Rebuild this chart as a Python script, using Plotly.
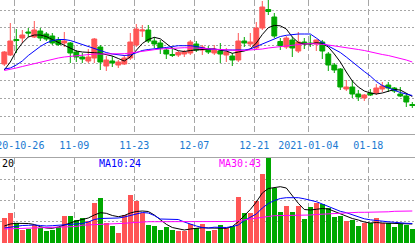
import pandas as pd
import plotly.graph_objects as go

# ---------------- data ----------------
dates = [d.strftime("%Y-%m-%d") for d in pd.bdate_range("2020-10-22", "2021-01-27")
         if d.strftime("%Y-%m-%d") != "2021-01-01"]

opens = [70, 79, 94.5, 96, 102, 97, 103, 100, 98, 94,
         91, 91, 82, 77, 73, 76, 87, 68, 73, 69,
         70, 76, 89, 103, 104, 93, 91, 84, 79.5, 79,
         80, 81, 90, 84, 85, 81, 83, 79, 78, 74,
         93, 90, 86, 106, 124.5, 117, 92.5, 87, 94, 83,
         92, 91, 90, 92, 80, 69, 65, 45, 47, 40,
         36, 41, 41, 45, 49, 46, 40, 38, 29.5]
closes = [82, 93, 93.5, 99, 101, 104, 96, 95, 91, 89.5,
          93, 81, 77, 75, 77, 95, 72, 74, 71, 72,
          76, 92, 105, 104, 93, 90, 86, 80, 78.7, 81.5,
          82, 92, 84, 87, 82, 84, 80, 82, 74, 93,
          91, 92, 106, 127, 122.5, 98, 88.5, 96, 86, 92,
          90, 90.3, 94, 83, 69, 64, 47, 47, 40, 37,
          39, 39, 46, 48, 46, 43, 38, 32, 28.5]
highs = [83, 111, 105, 104, 106, 113, 106, 102, 101, 97,
         102, 92, 84, 81, 85, 96, 89, 78, 78, 74,
         79, 101, 110, 109, 109, 97, 94, 86, 87, 83,
         84, 94, 93, 89, 88, 89, 91, 86, 81, 101,
         97, 101, 112, 133, 134, 121, 96, 98, 97, 102,
         96, 99, 94.5, 94, 82, 71, 66, 54, 54, 44,
         40, 45, 50, 52, 52, 47, 47, 41, 32]
lows = [68, 78, 81, 91, 97, 96, 93, 93, 89, 88,
        87, 71, 72, 71, 71, 71, 64, 63, 67, 66,
        69, 74, 87, 97, 91, 86, 80, 75, 77, 77,
        77, 79, 82, 79, 80, 79, 71, 72, 68, 72,
        87, 87, 85, 104, 119, 96, 84, 85, 77, 81,
        85, 87, 83, 75, 63, 61, 44, 43, 36, 33,
        33, 38, 39, 42, 42, 41, 37, 27, 26]

ma5 = [64, 72, 83, 91, 97, 99, 99, 97.5, 94.5, 91.5,
       88.5, 85.5, 83, 82, 81.3, 81.3, 80.7, 79, 78, 75.5,
       73, 77, 83.3, 90.5, 94.5, 96.7, 95.2, 90.8, 85.7, 83.3,
       82.5, 83.5, 84, 85, 85, 85.2, 83.7, 83, 80.7, 82,
       83, 85, 91, 99.5, 106.3, 108.6, 108.2, 105, 97, 91.5,
       90, 90, 91.3, 90.5, 87, 80, 72, 62, 53, 47,
       43, 41, 40, 41, 43, 44.5, 44, 40.5, 37.5]
ma10 = [65, 66, 69, 73, 78.5, 83, 87.5, 91, 93.5, 94.5,
        94.5, 93.5, 91.5, 89, 87, 85.5, 83.3, 81.5, 80, 79,
        78.5, 79, 81.5, 83.5, 84.5, 85, 85.5, 86.5, 87.5, 88.3,
        88.3, 88.3, 87.5, 86, 85, 84.7, 84, 84, 84, 84,
        84, 85, 87.5, 90, 92.5, 95.5, 97.5, 98.7, 99.5, 100,
        100, 100, 96, 91.5, 88, 85, 81.5, 77, 72, 67.5,
        62.5, 58, 52.5, 48.5, 46, 44, 41.5, 40, 38.5]
ma30 = [63.5, 64.5, 66, 67.5, 69, 70.5, 72, 73.5, 75, 76,
        77, 77.7, 78.3, 79, 79.5, 80, 80, 80, 80, 80,
        80.3, 81, 82, 82.5, 83.5, 84.3, 85, 85.5, 86, 86.3,
        86.3, 86.2, 85.8, 85.4, 85, 84.6, 84.2, 84, 83.7, 83.5,
        83.6, 83.9, 84.3, 85, 86, 86.8, 87.6, 88.3, 89, 89.6,
        90.1, 90.4, 90.4, 89.7, 89, 88.2, 87.5, 86.5, 85.5, 84.5,
        83.5, 82, 80.5, 79.5, 78.5, 77.2, 76, 74, 72]

volumes = [24.7, 30.3, 19.7, 13, 14, 18, 14.7, 12, 13, 16.3,
           27.3, 27.3, 23, 24.7, 22, 40.3, 45.3, 19.7, 17.3, 10.3,
           28, 48, 42.5, 30.3, 18, 17, 13, 15.7, 13, 12,
           12.3, 18.7, 14.7, 19, 12, 13.5, 18, 14.7, 17, 46.3,
           29.7, 29.7, 42, 69, 84.7, 55.3, 30.7, 37, 30.7, 37,
           24, 36.3, 39.7, 38.7, 34.7, 26.3, 27, 22, 23, 17.3,
           19.7, 20.3, 24.7, 20.3, 19.7, 16.3, 18.7, 18, 14]
vol_ma5 = [17, 19, 19.7, 19.7, 19.5, 18.5, 16.3, 15, 14.7, 16,
           18, 20.5, 22, 23.5, 25, 28, 30.3, 29.7, 27.5, 26.3,
           27.5, 30, 31.5, 32, 31.5, 28, 23, 18.7, 15.5, 14,
           13, 14, 15, 15.3, 15, 15, 14.7, 14.7, 16.5, 21.3,
           27.3, 33.5, 41, 50, 54.5, 55.5, 56.3, 55, 47, 39.7,
           33.5, 33, 33.7, 34.5, 34, 31.5, 29, 26.7, 24.5, 23,
           21, 20, 20.5, 20, 19.7, 19.7, 19, 18.7, 19]
vol_ma10 = [15, 16, 17, 17.5, 17.7, 18, 17.5, 17, 17.3, 17.7,
            18, 18, 18.5, 19.5, 21, 23.5, 24.5, 24.7, 24.7, 25,
            26, 27.5, 29.5, 30.5, 30, 27.5, 24, 23.7, 23.7, 23.5,
            21, 18.7, 17, 15.5, 15, 15.8, 15.5, 15.5, 16.5, 18,
            22.5, 25.5, 29, 35, 39.5, 42.5, 44.5, 45.3, 45.3, 45.3,
            44.2, 43, 41.3, 39, 36.7, 34, 31.7, 30.3, 28, 26.3,
            24.2, 23.2, 22.3, 21.7, 21.2, 20.7, 20, 19.7, 19.5]
vol_ma30 = [14, 14.2, 14.5, 14.7, 15, 15.2, 15.5, 15.8, 16, 16.2,
            16.3, 16.3, 16.5, 17.8, 18, 18.5, 18.7, 18.8, 19, 19.5,
            19.7, 20.2, 20.7, 21.2, 21.3, 21.3, 21.3, 21.3, 21.3, 21.3,
            21.3, 21.3, 21.3, 21.3, 21.3, 21.3, 21.3, 21.3, 21.5, 22.3,
            23, 23.8, 24.5, 25.5, 26.5, 27.3, 27.3, 27.7, 27.8, 28,
            28, 28, 28.5, 28.8, 29.3, 29.7, 30.2, 30.7, 30.7, 30.7,
            30.7, 30.7, 30.8, 31, 31.2, 31.7, 32, 32, 32]

tick_dates = ["2020-10-26", "2020-11-09", "2020-11-23", "2020-12-07",
              "2020-12-21", "2021-01-04", "2021-01-18"]
tick_labels = ["2020-10-26", "11-09", "11-23", "12-07", "12-21", "2021-01-04", "01-18"]

vol_legend_names = ["MA5", "MA10", "MA30"]
vol_legend_values = [20, 24, 43]

# ---------------- styling ----------------
W, H = 415, 243
RED = "#FF5555"
GREEN = "#00A800"
BLUE = "#0000FF"
MAGENTA = "#FF00FF"
BLACK = "#000000"
GRID = "#A6A6A6"
TICK_BLUE = "#1A7AD2"
FONT = "DejaVu Sans Mono"
GRID_SHIFT = -0.33

n = len(dates)
x = list(range(n))
tickvals = [dates.index(d) + GRID_SHIFT for d in tick_dates]
xrange_ = [-4.3 / 6, (W - 4.3) / 6]
up = [c >= o for o, c in zip(opens, closes)]

fig = go.Figure()
fig.add_trace(go.Candlestick(
    x=x, open=opens, high=highs, low=lows, close=closes,
    increasing=dict(line=dict(color=RED, width=1), fillcolor=RED),
    decreasing=dict(line=dict(color=GREEN, width=1), fillcolor=GREEN),
    whiskerwidth=0, xaxis="x", yaxis="y", showlegend=False,
    customdata=dates, hoverinfo="skip"))

for series, color in [(ma5, BLACK), (ma10, BLUE), (ma30, MAGENTA)]:
    fig.add_trace(go.Scatter(x=x, y=series, mode="lines",
                             line=dict(color=color, width=1),
                             xaxis="x", yaxis="y", showlegend=False, hoverinfo="skip"))

fig.add_trace(go.Bar(x=x, y=volumes, width=0.82,
                     marker=dict(color=[RED if u else GREEN for u in up], line=dict(width=0)),
                     xaxis="x2", yaxis="y2", showlegend=False, hoverinfo="skip"))
for series, color in [(vol_ma5, BLACK), (vol_ma10, BLUE), (vol_ma30, MAGENTA)]:
    fig.add_trace(go.Scatter(x=x, y=series, mode="lines",
                             line=dict(color=color, width=1),
                             xaxis="x2", yaxis="y2", showlegend=False, hoverinfo="skip"))

price_bottom = (H - 134) / H
vol_top = (H - 158) / H

axis_common = dict(range=xrange_, tickvals=tickvals, showgrid=True, gridcolor=GRID,
                   gridwidth=1, griddash="6px,3px", zeroline=False, ticks="",
                   showline=True, linecolor=GRID, linewidth=1, fixedrange=True,
                   automargin=False)

fig.update_layout(
    width=W, height=H, margin=dict(l=0, r=0, t=0, b=0, autoexpand=False),
    paper_bgcolor="white", plot_bgcolor="white",
    font=dict(family=FONT, size=10),
    boxgap=0.1, boxgroupgap=0.1, bargap=0,
    xaxis=dict(domain=[0, 1], anchor="y", ticktext=tick_labels,
               tickfont=dict(color=TICK_BLUE, size=10, family=FONT),
               ticklabeloverflow="allow", ticklabelstandoff=2,
               rangeslider=dict(visible=False), side="bottom", **axis_common),
    yaxis=dict(domain=[price_bottom, 1], range=[0, 134], tick0=18, dtick=53 / 3,
               showticklabels=False, showgrid=True, gridcolor=GRID, griddash="2px,2px",
               zeroline=False, showline=False, fixedrange=True, automargin=False),
    xaxis2=dict(domain=[0, 1], anchor="y2", showticklabels=False, side="top",
                **axis_common),
    yaxis2=dict(domain=[0, vol_top], range=[0, 85], tick0=0, dtick=64 / 3,
                showticklabels=False, showgrid=True, gridcolor=GRID, griddash="2px,2px",
                zeroline=False, showline=False, fixedrange=True, automargin=False),
)

legend_x = [-24, 96.7, 217.3]
for name, val, color, lx in zip(vol_legend_names, vol_legend_values,
                                [BLACK, BLUE, MAGENTA], legend_x):
    fig.add_annotation(x=lx / W, y=(H - 163.5) / H, xref="paper", yref="paper",
                       text=f"{name}:{val}", showarrow=False, xanchor="left",
                       yanchor="middle", font=dict(color=color, size=10, family=FONT))

fig.write_html("out.html")
